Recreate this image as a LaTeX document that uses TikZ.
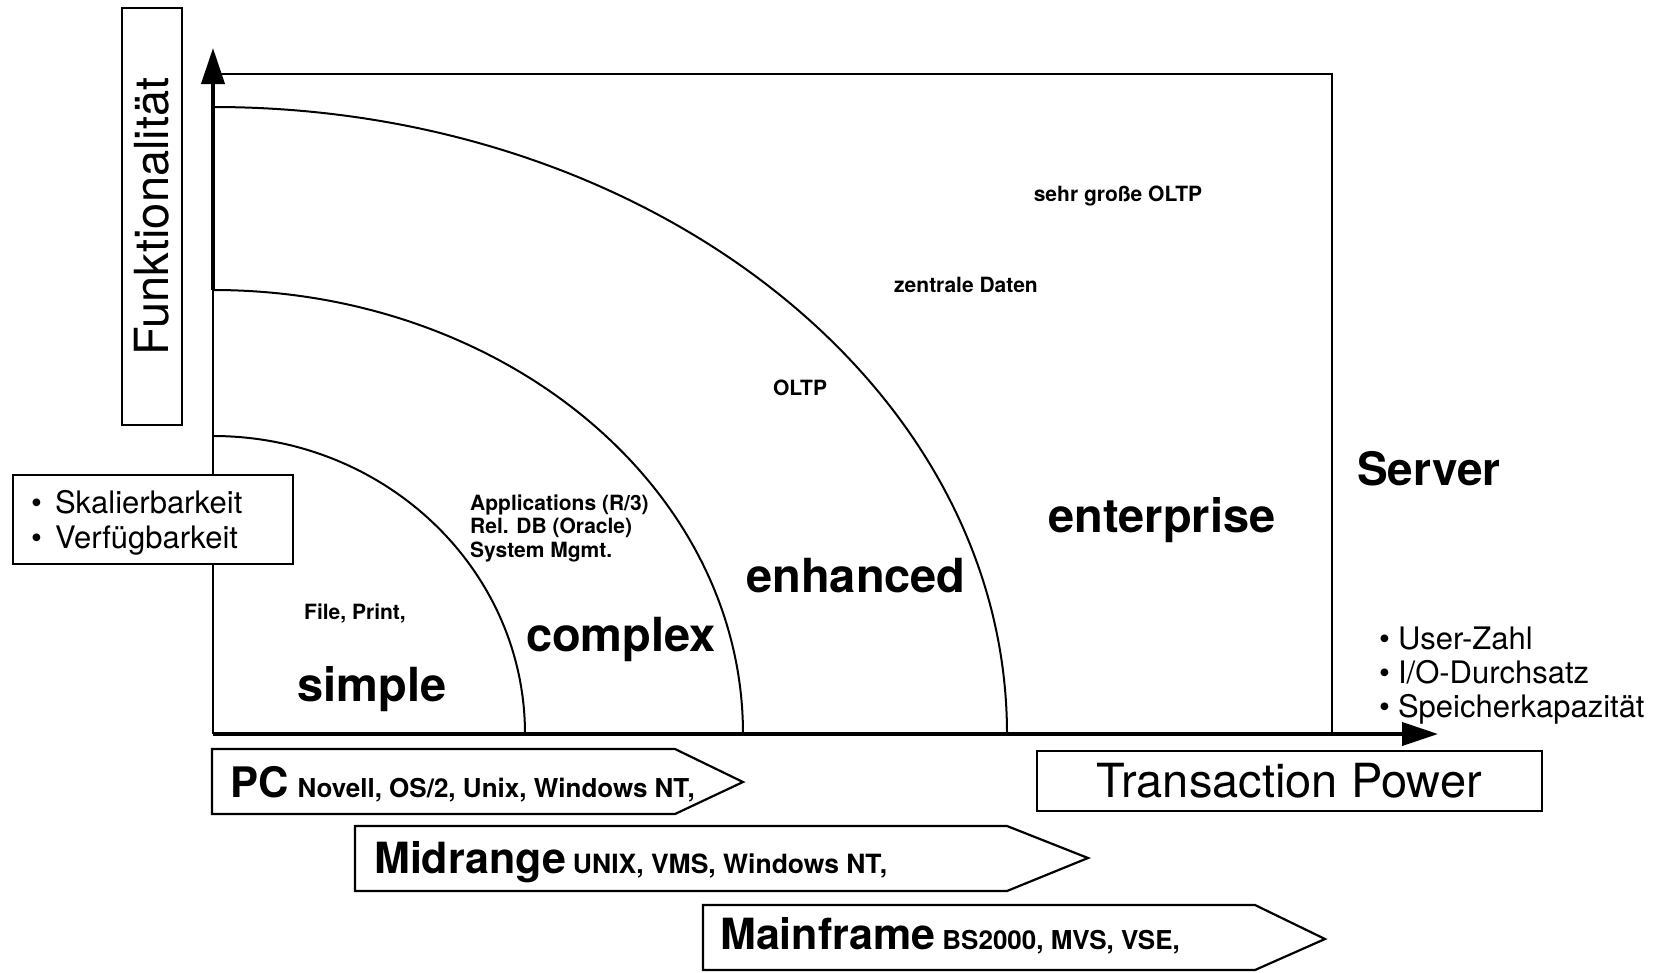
\documentclass[tikz,border=0pt]{standalone}
\usepackage{fontspec}
\setmainfont{TeX Gyre Heros}
\usetikzlibrary{arrows.meta}
\newcommand{\fsz}[2]{\fontsize{#1}{#2}\selectfont}
\tikzset{
  frame/.style={line width=2.2pt},
  axisline/.style={line width=4pt, -{Triangle[length=36pt,width=23pt]}},
  arcline/.style={line width=2pt},
  bigbold/.style={font=\fsz{47}{56}\bfseries, inner sep=0pt},
  smallbold/.style={font=\fsz{21}{23.5}\bfseries, inner sep=0pt, align=left},
  boxed/.style={draw, line width=2.2pt, fill=white},
  pentagon/.style={draw, line width=2.2pt, fill=white, line join=miter},
  rowtext/.style={anchor=base west, inner sep=0pt},
}
\begin{document}
\begin{tikzpicture}[x=1pt, y=-1pt]
\useasboundingbox (0,0) rectangle (1657,972);

% coordinates
\coordinate (O) at (213,734);
\coordinate (ytop) at (213,48);
\coordinate (xend) at (1438,734);
\coordinate (tl) at (213,74);
\coordinate (tr) at (1332,74);
\coordinate (br) at (1332,734);

% arcs
\draw[arcline] (213,436) arc[start angle=-90, end angle=0, x radius=312, y radius=298];
\draw[arcline] (213,290) arc[start angle=-90, end angle=0, x radius=530, y radius=444];
\draw[arcline] (213,107) arc[start angle=-90, end angle=0, x radius=794, y radius=627];

% frame and axes
\draw[frame] (tl) -- (tr) -- (br);
\draw[frame] (O) -- (213,290);
\draw[axisline] (213,290) -- (ytop);
\draw[axisline] (O) -- (xend);

% axis labels
\node[boxed, rotate=90, minimum width=417pt, minimum height=60pt, inner sep=0pt,
      font=\fsz{47}{50}] (funk) at (152,216.5) {Funktionalität};

\node[boxed, anchor=north west, minimum width=280pt, minimum height=89pt, inner sep=0pt] (skal) at (12,474) {};
\node[anchor=west, inner sep=0pt, align=left, font=\fsz{31}{35}] (skaltext) at (31,523)
  {\textbullet\hspace{13pt}Skalierbarkeit\\ \textbullet\hspace{13pt}Verfügbarkeit};

\node[boxed, minimum width=505pt, minimum height=60pt, inner sep=0pt,
      font=\fsz{47}{50}] (tp) at (1289.5,781) {Transaction Power};

\node[anchor=west, inner sep=0pt, font=\fsz{46}{50}\bfseries] (server) at (1357,469) {Server};

\node[anchor=west, inner sep=0pt, align=left, font=\fsz{31}{34}] (crit) at (1379,676)
  {\textbullet\hspace{8pt}User-Zahl\\ \textbullet\hspace{8pt}I/O-Durchsatz\\ \textbullet\hspace{8pt}Speicherkapazität};

% region labels
\node[bigbold] (simple) at (372,689) {simple};
\node[bigbold] (complex) at (621,639) {complex};
\node[bigbold] (enhanced) at (856,576) {enhanced};
\node[bigbold] (enterprise) at (1162,520) {enterprise};

\node[smallbold] (fp) at (355,613) {File, Print,};
\node[smallbold, anchor=west] (apps) at (470,528) {Applications (R/3)\\Rel. DB (Oracle)\\System Mgmt.};
\node[smallbold] (oltp) at (800,388) {OLTP};
\node[smallbold] (zd) at (966,285) {zentrale Daten};
\node[smallbold] (sg) at (1118,196) {sehr große OLTP};

% platform arrows
\draw[pentagon] (212,749) -- (675,749) -- (743,782) -- (675,814) -- (212,814) -- cycle;
\node[rowtext] (pc) at (230,797) {{\fsz{42}{42}\bfseries PC}\hspace{9pt}{\fsz{26}{27}\bfseries Novell, OS/2, Unix, Windows NT,}};

\draw[pentagon] (355,826) -- (1007,826) -- (1088,858) -- (1007,891) -- (355,891) -- cycle;
\node[rowtext] (mid) at (374,873) {{\fsz{43}{43}\bfseries Midrange}\hspace{7pt}{\fsz{26.5}{27}\bfseries UNIX, VMS, Windows NT,}};

\draw[pentagon] (703,905) -- (1255,905) -- (1325,939) -- (1255,970) -- (703,970) -- cycle;
\node[rowtext] (main) at (720,949) {{\fsz{43}{43}\bfseries Mainframe}\hspace{7pt}{\fsz{26}{27}\bfseries BS2000, MVS, VSE,}};
\end{tikzpicture}
\end{document}
